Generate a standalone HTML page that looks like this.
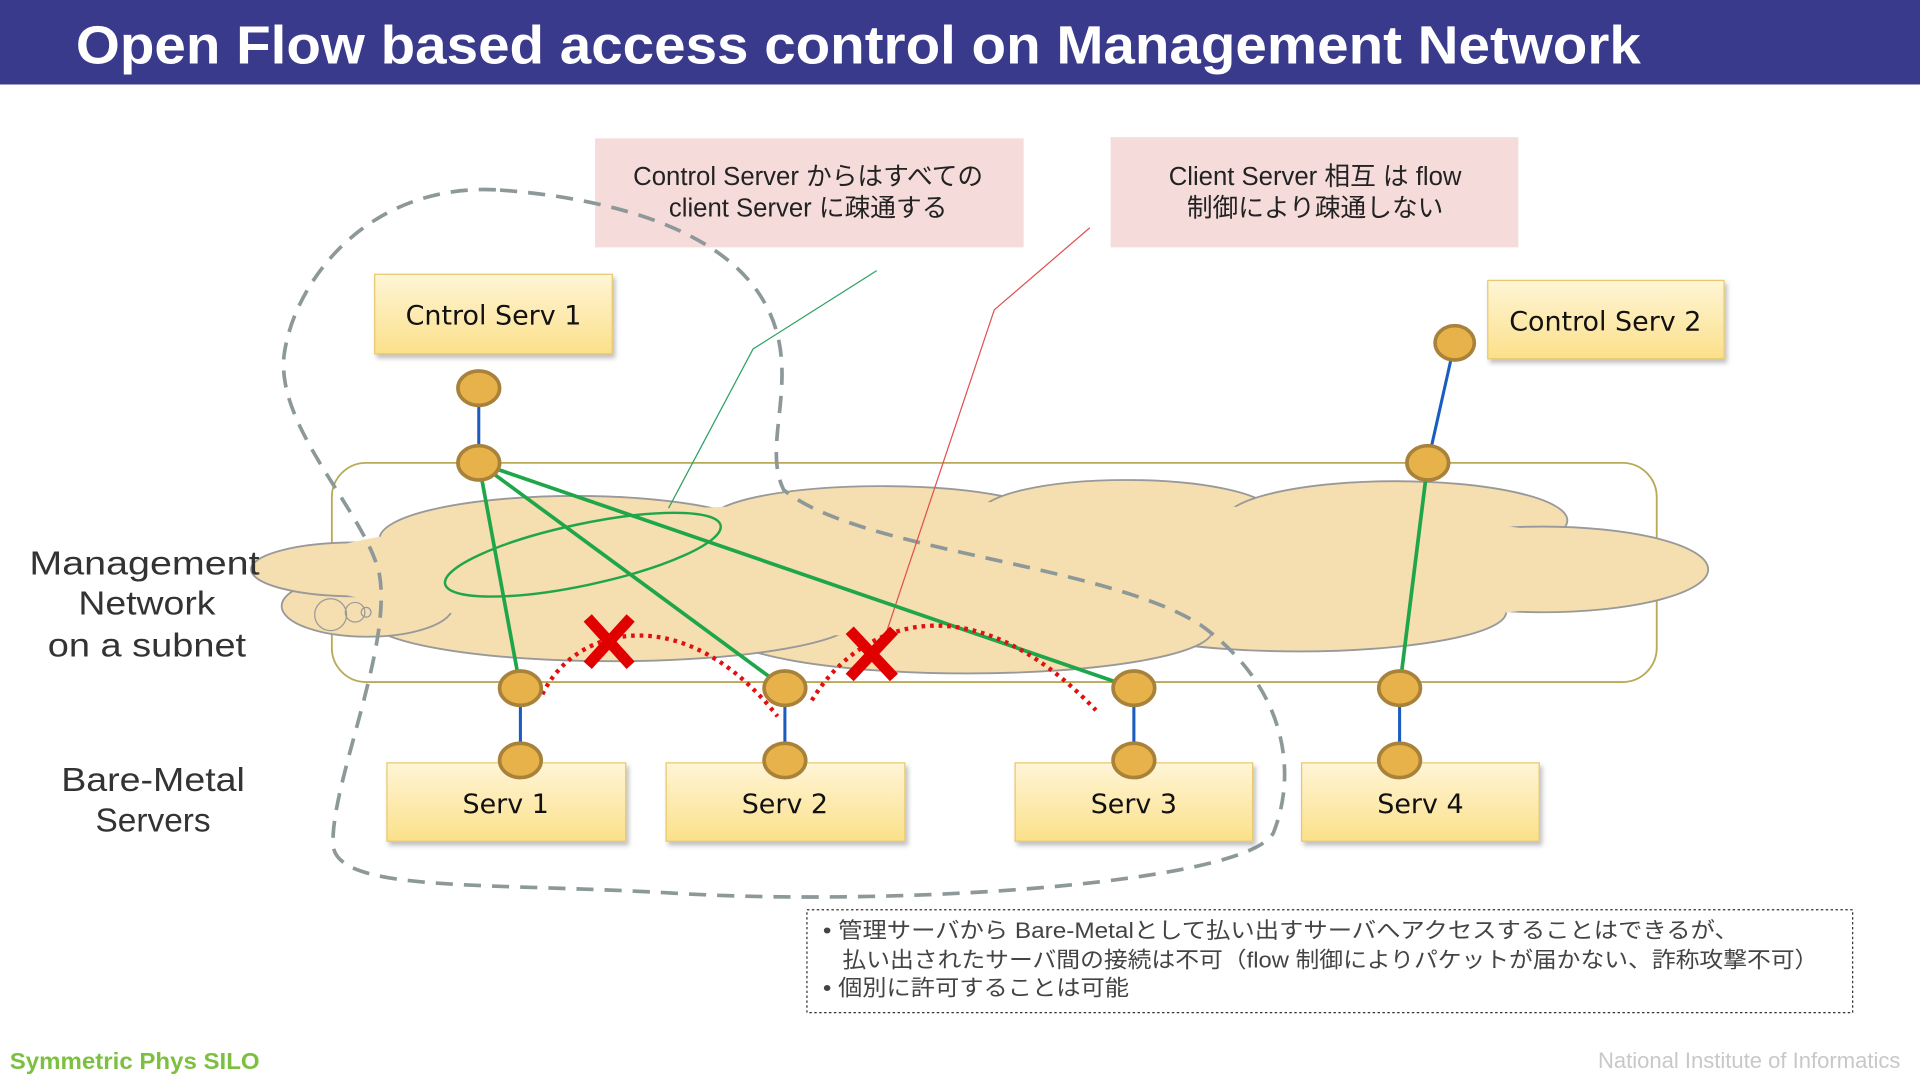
<!DOCTYPE html>
<html><head><meta charset="utf-8"><style>
html,body{margin:0;padding:0;background:#fff;width:1920px;height:1080px;overflow:hidden}
svg{display:block}
.s{font-family:"Liberation Sans","Noto Sans CJK JP",sans-serif}
.d{font-family:"DejaVu Sans",sans-serif}
</style></head><body>
<svg width="1920" height="1080" viewBox="0 0 1568 882" xmlns="http://www.w3.org/2000/svg">
<defs>
<linearGradient id="bx" x1="0" y1="0" x2="0" y2="1"><stop offset="0" stop-color="#fff5d6"/><stop offset="1" stop-color="#fbe08a"/></linearGradient>
<filter id="sh" x="-10%" y="-10%" width="130%" height="140%"><feDropShadow dx="2" dy="3" stdDeviation="2" flood-color="#000" flood-opacity="0.25"/></filter>
</defs>
<rect x="0" y="0" width="1568" height="69" fill="#3a3a8c"/>
<text class="s" x="62" y="52" font-size="44" font-weight="bold" fill="#fff" textLength="1278" lengthAdjust="spacingAndGlyphs">Open Flow based access control on Management Network</text>

<rect x="486" y="113" width="350" height="89" fill="#f5dcdb"/>
<text class="s" x="660" y="151" font-size="21" text-anchor="middle" fill="#222">Control Server からはすべての</text>
<text class="s" x="660" y="177" font-size="21" text-anchor="middle" fill="#222">client Server に疎通する</text>
<rect x="907" y="112" width="333" height="90" fill="#f5dcdb"/>
<text class="s" x="1074" y="151" font-size="21" text-anchor="middle" fill="#222">Client Server 相互 は flow</text>
<text class="s" x="1074" y="177" font-size="21" text-anchor="middle" fill="#222">制御により疎通しない</text>

<rect x="271" y="378" width="1082" height="179" rx="28" fill="none" stroke="#b8aa58" stroke-width="1.5"/>
<g fill="#f5deb0" stroke="#999" stroke-width="1.5">
<ellipse cx="470" cy="440" rx="160" ry="35"/>
<ellipse cx="720" cy="425" rx="140" ry="28"/>
<ellipse cx="920" cy="420" rx="120" ry="28"/>
<ellipse cx="1140" cy="425" rx="140" ry="32"/>
<ellipse cx="1260" cy="465" rx="135" ry="35"/>
<ellipse cx="1060" cy="500" rx="170" ry="32"/>
<ellipse cx="790" cy="515" rx="200" ry="35"/>
<ellipse cx="500" cy="505" rx="200" ry="35"/>
<ellipse cx="300" cy="495" rx="70" ry="25"/>
<ellipse cx="290" cy="465" rx="85" ry="22"/>
</g>
<ellipse cx="800" cy="465" rx="560" ry="55" fill="#f5deb0"/>
<ellipse cx="500" cy="470" rx="180" ry="45" fill="#f5deb0"/>
<circle cx="270" cy="502" r="13" fill="none" stroke="#999"/>
<circle cx="290" cy="500" r="8" fill="none" stroke="#999"/>
<circle cx="299" cy="500" r="4" fill="none" stroke="#999"/>

<path d="M 405 155 C 300 150 240 230 232 290 C 225 350 300 420 310 470 C 320 530 270 640 272 690 C 275 730 400 720 560 730 C 750 740 1020 720 1040 680 C 1060 630 1050 560 980 510 C 900 460 700 450 640 400 C 620 360 660 300 620 240 C 580 180 480 160 405 155 Z" fill="none" stroke="#8d9898" stroke-width="3" stroke-dasharray="14,9"/>

<polyline points="716,221 615,285 546,415" fill="none" stroke="#2aa060" stroke-width="1"/>
<polyline points="890,186 812,253 720,528" fill="none" stroke="#e05050" stroke-width="1"/>

<ellipse cx="476" cy="453" rx="115" ry="25" transform="rotate(-12 476 453)" fill="none" stroke="#1fa64a" stroke-width="2"/>

<g stroke="#1fa64a" stroke-width="3">
<line x1="391" y1="378" x2="425" y2="562"/>
<line x1="391" y1="378" x2="641" y2="562"/>
<line x1="391" y1="378" x2="926" y2="562"/>
<line x1="1166" y1="378" x2="1143" y2="562"/>
</g>
<g fill="none" stroke="#e01010" stroke-width="3.5" stroke-dasharray="3,4">
<path d="M 443 567 C 470 510 560 490 635 585"/>
<path d="M 663 572 C 700 510 790 470 895 580"/>
</g>
<g stroke="#e00000" stroke-width="9" stroke-linecap="square">
<line x1="483" y1="508" x2="512" y2="540"/><line x1="512" y1="508" x2="483" y2="540"/>
<line x1="697" y1="518" x2="727" y2="550"/><line x1="727" y1="518" x2="697" y2="550"/>
</g>

<g stroke="#1a5cc0" stroke-width="2.5">
<line x1="391" y1="317" x2="391" y2="378"/>
<line x1="1188" y1="280" x2="1166" y2="378"/>
<line x1="425" y1="562" x2="425" y2="621"/>
<line x1="641" y1="562" x2="641" y2="621"/>
<line x1="926" y1="562" x2="926" y2="621"/>
<line x1="1143" y1="562" x2="1143" y2="621"/>
</g>

<g filter="url(#sh)" fill="url(#bx)" stroke="#e8c86a" stroke-width="1">
<rect x="306" y="224" width="194" height="65"/>
<rect x="1215" y="229" width="193" height="64"/>
<rect x="316" y="623" width="195" height="64"/>
<rect x="544" y="623" width="195" height="64"/>
<rect x="829" y="623" width="194" height="64"/>
<rect x="1063" y="623" width="194" height="64"/>
</g>
<g class="d" font-size="22" fill="#111" text-anchor="middle">
<text x="403" y="265">Cntrol Serv 1</text>
<text x="1311" y="270">Control Serv 2</text>
<text x="413" y="664">Serv 1</text>
<text x="641" y="664">Serv 2</text>
<text x="926" y="664">Serv 3</text>
<text x="1160" y="664">Serv 4</text>
</g>

<g fill="#e8b24a" stroke="#a8823a" stroke-width="3">
<ellipse cx="391" cy="317" rx="17" ry="14"/>
<ellipse cx="391" cy="378" rx="17" ry="14"/>
<ellipse cx="1188" cy="280" rx="16" ry="14"/>
<ellipse cx="1166" cy="378" rx="17" ry="14"/>
<ellipse cx="425" cy="562" rx="17" ry="14"/>
<ellipse cx="641" cy="562" rx="17" ry="14"/>
<ellipse cx="926" cy="562" rx="17" ry="14"/>
<ellipse cx="1143" cy="562" rx="17" ry="14"/>
<ellipse cx="425" cy="621" rx="17" ry="14"/>
<ellipse cx="641" cy="621" rx="17" ry="14"/>
<ellipse cx="926" cy="621" rx="17" ry="14"/>
<ellipse cx="1143" cy="621" rx="17" ry="14"/>
</g>

<g class="s" font-size="27" fill="#333" text-anchor="middle">
<text x="118" y="469" textLength="188" lengthAdjust="spacingAndGlyphs">Management</text>
<text x="120" y="502" textLength="112" lengthAdjust="spacingAndGlyphs">Network</text>
<text x="120" y="536" textLength="162" lengthAdjust="spacingAndGlyphs">on a subnet</text>
<text x="125" y="646" textLength="150" lengthAdjust="spacingAndGlyphs">Bare-Metal</text>
<text x="125" y="679" textLength="94" lengthAdjust="spacingAndGlyphs">Servers</text>
</g>

<rect x="659" y="743" width="854" height="84" fill="#fff" stroke="#333" stroke-width="1" stroke-dasharray="2,2"/>
<g class="s" font-size="18" fill="#444">
<text x="672" y="766" textLength="748" lengthAdjust="spacingAndGlyphs">• 管理サーバから Bare-Metalとして払い出すサーバへアクセスすることはできるが、</text>
<text x="688" y="790" textLength="797" lengthAdjust="spacingAndGlyphs">払い出されたサーバ間の接続は不可（flow 制御によりパケットが届かない、詐称攻撃不可）</text>
<text x="672" y="813" textLength="250" lengthAdjust="spacingAndGlyphs">• 個別に許可することは可能</text>
</g>

<text class="s" x="8" y="873" font-size="19" font-weight="bold" fill="#7cc040" textLength="204" lengthAdjust="spacingAndGlyphs">Symmetric Phys SILO</text>
<text class="s" x="1552" y="872" font-size="18" fill="#c8c8c8" text-anchor="end">National Institute of Informatics</text>
</svg>
</body></html>
